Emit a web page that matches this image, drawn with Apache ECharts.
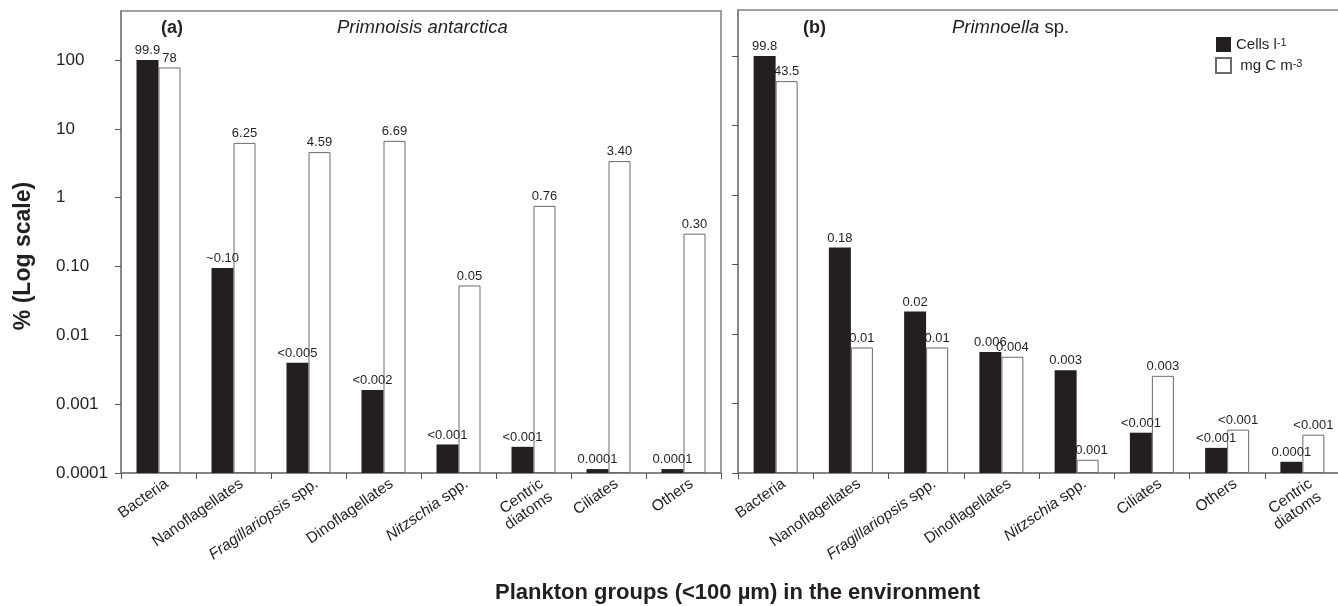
<!DOCTYPE html>
<html><head><meta charset="utf-8">
<script src="https://cdn.jsdelivr.net/npm/echarts@6/dist/echarts.min.js"></script>
<style>html,body{margin:0;padding:0;background:#fff}#c{width:1338px;height:606px}</style>
</head><body><div id="c"></div>
<script>
// ---- data ----
const categoriesA = ['Bacteria','Nanoflagellates','Fragillariopsis spp.','Dinoflagellates','Nitzschia spp.','Centric diatoms','Ciliates','Others'];
const categoriesB = ['Bacteria','Nanoflagellates','Fragillariopsis spp.','Dinoflagellates','Nitzschia spp.','Ciliates','Others','Centric diatoms'];
const cellsA = [99.9, 0.095, 0.0040, 0.0016, 0.00026, 0.00024, 0.000114, 0.000114];
const carbonA = [78, 6.25, 4.59, 6.69, 0.053, 0.76, 3.40, 0.30];
const cellsB = [99.8, 0.175, 0.021, 0.0055, 0.0030, 0.00038, 0.00023, 0.000145];
const carbonB = [43.5, 0.0064, 0.0064, 0.0047, 0.000155, 0.0025, 0.00042, 0.000356];
const cellsLabelsA = ['99.9','~0.10','<0.005','<0.002','<0.001','<0.001','0.0001','0.0001'];
const carbonLabelsA = ['78','6.25','4.59','6.69','0.05','0.76','3.40','0.30'];
const cellsLabelsB = ['99.8','0.18','0.02','0.006','0.003','<0.001','<0.001','0.0001'];
const carbonLabelsB = ['43.5','0.01','0.01','0.004','<0.001','0.003','<0.001','<0.001'];
const yTickValues = [0.0001, 0.001, 0.01, 0.1, 1, 10, 100];
const yTickLabels = ['0.0001','0.001','0.01','0.10','1','10','100'];
const seriesNames = ['Cells l-1','mg C m-3'];

const FONT = "'Liberation Sans', Arial, Helvetica, sans-serif";
const INK = '#231f20';
const AXIS = '#808080';

const catRich = {
  n: {fontSize: 15.5, fontFamily: FONT, color: INK},
  i: {fontSize: 15.5, fontFamily: FONT, color: INK, fontStyle: 'italic'}
};
function fmtCat(v) {
  if (v === 'Fragillariopsis spp.') return '{i|Fragillariopsis}{n| spp.}';
  if (v === 'Nitzschia spp.') return '{i|Nitzschia}{n| spp.}';
  if (v === 'Centric diatoms') return '{n| }\n{n|Centric}\n{n|diatoms}';
  return '{n|' + v + '}';
}
function xAxisCfg(gi, data) {
  return {
    type: 'category', gridIndex: gi, data: data, boundaryGap: true,
    axisLine: {show: true, lineStyle: {color: AXIS, width: 1.5}},
    axisTick: {show: true, length: 6, alignWithLabel: false, lineStyle: {color: '#555', width: 1}},
    axisLabel: {interval: 0, rotate: 35, margin: 15, padding: [0, -10, 0, 0], fontSize: 15.5, color: INK, fontFamily: FONT, formatter: fmtCat, rich: catRich},
    splitLine: {show: false}
  };
}
function yAxisCfg(gi, max, showLabels) {
  return {
    type: 'log', logBase: 10, gridIndex: gi, min: 0.0001, max: max, startValue: 0.0001,
    axisLine: {show: true, lineStyle: {color: AXIS, width: 1.5}},
    axisTick: {show: true, length: 6, customValues: yTickValues, lineStyle: {color: '#555', width: 1}},
    minorTick: {show: false}, splitLine: {show: false}, minorSplitLine: {show: false},
    axisLabel: {
      show: showLabels, customValues: yTickValues, align: 'left', margin: 65, fontSize: 17, color: INK, fontFamily: FONT,
      formatter: function (v) {
        let best = 0, bd = Infinity;
        yTickValues.forEach(function (t, i) { const d = Math.abs(Math.log10(v) - Math.log10(t)); if (d < bd) { bd = d; best = i; } });
        return bd < 1e-6 ? yTickLabels[best] : '';
      }
    },
    name: showLabels ? '% (Log scale)' : '', nameLocation: 'middle', nameGap: 86,
    nameTextStyle: {fontSize: 23, fontWeight: 'bold', color: INK, fontFamily: FONT, padding: [0, 28, 0, 0]}
  };
}
function barSeries(name, gi, data, labels, dark) {
  return {
    type: 'bar', name: name, xAxisIndex: gi, yAxisIndex: gi, data: data,
    barWidth: 22, barGap: '0%',
    itemStyle: dark ? {color: INK, borderColor: INK, borderWidth: 0}
                    : {color: '#ffffff', borderColor: '#6a6a6a', borderWidth: 1},
    label: {show: true, position: 'top', distance: 3, fontSize: 13, color: INK, fontFamily: FONT,
            textBorderWidth: 0, formatter: function (p) { return labels[p.dataIndex]; }},
    emphasis: {disabled: true}, animation: false
  };
}

const chart = echarts.init(document.getElementById('c'), null, {renderer: 'canvas'});
chart.setOption({
  backgroundColor: '#ffffff',
  animation: false,
  textStyle: {fontFamily: FONT},
  grid: [
    {left: 121, top: 11, width: 600, height: 462, show: true, borderColor: AXIS, borderWidth: 1.5, backgroundColor: 'transparent', containLabel: false, outerBoundsMode: 'none'},
    {left: 738, top: 10, width: 602, height: 463, show: true, borderColor: AXIS, borderWidth: 1.5, backgroundColor: 'transparent', containLabel: false, outerBoundsMode: 'none'}
  ],
  xAxis: [xAxisCfg(0, categoriesA), xAxisCfg(1, categoriesB)],
  yAxis: [yAxisCfg(0, 515, true), yAxisCfg(1, 459, false)],
  legend: {
    show: true, orient: 'vertical', left: 1215, top: 37, padding: 0, itemWidth: 15, itemHeight: 15, itemGap: 5,
    icon: 'rect', data: seriesNames, selectedMode: false,
    textStyle: {color: INK, fontFamily: FONT, fontSize: 15,
      rich: {t: {fontSize: 15, fontFamily: FONT, color: INK}, s: {fontSize: 11, fontFamily: FONT, color: INK, verticalAlign: 'top'}}},
    formatter: function (n) { return n === seriesNames[0] ? '{t|Cells l}{s|-1}' : '{t| mg C m}{s|-3}'; }
  },
  title: [
    {text: '(a)', left: 161, top: 19, padding: 0, textStyle: {fontSize: 18, fontWeight: 'bold', color: INK, fontFamily: FONT}},
    {text: 'Primnoisis antarctica', left: 337, top: 18, padding: 0, textStyle: {fontSize: 18.5, fontStyle: 'italic', fontWeight: 'normal', color: INK, fontFamily: FONT}},
    {text: '(b)', left: 803, top: 19, padding: 0, textStyle: {fontSize: 18, fontWeight: 'bold', color: INK, fontFamily: FONT}},
    {text: '{i|Primnoella}{n| sp.}', left: 952, top: 18, padding: 0, textStyle: {fontSize: 18.5, fontWeight: 'normal', color: INK, fontFamily: FONT,
      rich: {i: {fontSize: 18.5, fontStyle: 'italic', fontWeight: 'normal', color: INK, fontFamily: FONT}, n: {fontSize: 18.5, fontWeight: 'normal', color: INK, fontFamily: FONT}}}},
    {text: 'Plankton groups (<100 µm) in the environment', left: 495, top: 582, padding: 0, textStyle: {fontSize: 22, fontWeight: 'bold', color: INK, fontFamily: FONT}}
  ],
  series: [
    barSeries(seriesNames[0], 0, cellsA, cellsLabelsA, true),
    barSeries(seriesNames[1], 0, carbonA, carbonLabelsA, false),
    barSeries(seriesNames[0], 1, cellsB, cellsLabelsB, true),
    barSeries(seriesNames[1], 1, carbonB, carbonLabelsB, false)
  ]
});
</script>
</body></html>
